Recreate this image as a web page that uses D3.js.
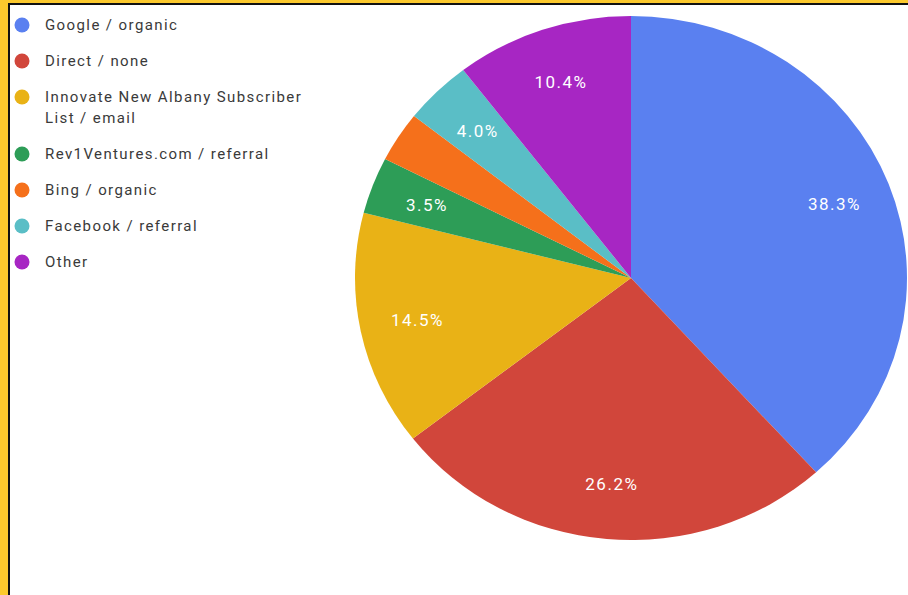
<!DOCTYPE html>
<html>
<head>
<meta charset="utf-8">
<script src="https://cdn.jsdelivr.net/npm/d3@7"></script>
<style>
  html, body { margin: 0; padding: 0; background: #fff; }
  svg { display: block; }
</style>
</head>
<body>
<svg id="chart" width="908" height="595"></svg>
<script>
const categories = ["Google / organic", "Direct / none", "Innovate New Albany Subscriber List / email", "Rev1Ventures.com / referral", "Bing / organic", "Facebook / referral", "Other"];
const legendLines = [["Google / organic"], ["Direct / none"], ["Innovate New Albany Subscriber", "List / email"], ["Rev1Ventures.com / referral"], ["Bing / organic"], ["Facebook / referral"], ["Other"]];
const values = [38.3, 26.2, 14.5, 3.5, 3.1, 4.0, 10.4];
const showLabel = [true, true, true, true, false, true, true];
const colors = ["#5a80f0", "#d1463b", "#e9b216", "#2d9d57", "#f5701b", "#5abec6", "#a726c3"];

const svg = d3.select("#chart");
const W = 908, H = 595;

svg.append("rect").attr("x", 0).attr("y", 0).attr("width", W).attr("height", H).attr("fill", "#fff");

// Pie (slightly elliptical, as in the reference)
const cx = 631, cy = 278, ry = 262, rx = 276;
const sx = rx / ry;
const pie = d3.pie().sort(null).value(d => d)(values);
const arc = d3.arc().innerRadius(0).outerRadius(ry);
const labelArc = d3.arc().innerRadius(ry * 0.79).outerRadius(ry * 0.79);

const g = svg.append("g").attr("transform", `translate(${cx},${cy})`);
g.append("g").attr("transform", `scale(${sx},1)`)
  .selectAll("path").data(pie).join("path")
  .attr("d", arc)
  .attr("fill", (d, i) => colors[i]);

g.selectAll("text.lbl").data(pie.filter((d, i) => showLabel[i])).join("text")
  .attr("class", "lbl")
  .attr("x", d => labelArc.centroid(d)[0] * sx)
  .attr("y", d => labelArc.centroid(d)[1])
  .attr("text-anchor", "middle")
  .attr("dominant-baseline", "central")
  .attr("fill", "#fff")
  .attr("font-family", "Roboto, Arial, sans-serif")
  .attr("font-size", 17)
  .attr("letter-spacing", 1.5)
  .text(d => d.value.toFixed(1) + "%");

// Legend
const legend = svg.append("g").attr("font-family", "Roboto, Arial, sans-serif").attr("font-size", 15)
  .attr("letter-spacing", 1.4).attr("fill", "#3a3a3a");
let y = 25;
legendLines.forEach((lines, i) => {
  legend.append("circle").attr("cx", 22).attr("cy", y).attr("r", 7.5).attr("fill", colors[i]);
  const t = legend.append("text").attr("x", 45).attr("y", y).attr("dominant-baseline", "central");
  lines.forEach((ln, j) => {
    t.append("tspan").attr("x", 45).attr("dy", j === 0 ? 0 : 21).text(ln);
  });
  y += 36 + (lines.length - 1) * 21;
});

// Frame
svg.append("rect").attr("x", 0).attr("y", 0).attr("width", 8).attr("height", H).attr("fill", "#fcc92d");
svg.append("rect").attr("x", 0).attr("y", 0).attr("width", W).attr("height", 3).attr("fill", "#fcc92d");
svg.append("rect").attr("x", 8).attr("y", 3).attr("width", 2).attr("height", H - 3).attr("fill", "#111");
svg.append("rect").attr("x", 8).attr("y", 3).attr("width", W - 8).attr("height", 2).attr("fill", "#111");
</script>
</body>
</html>
